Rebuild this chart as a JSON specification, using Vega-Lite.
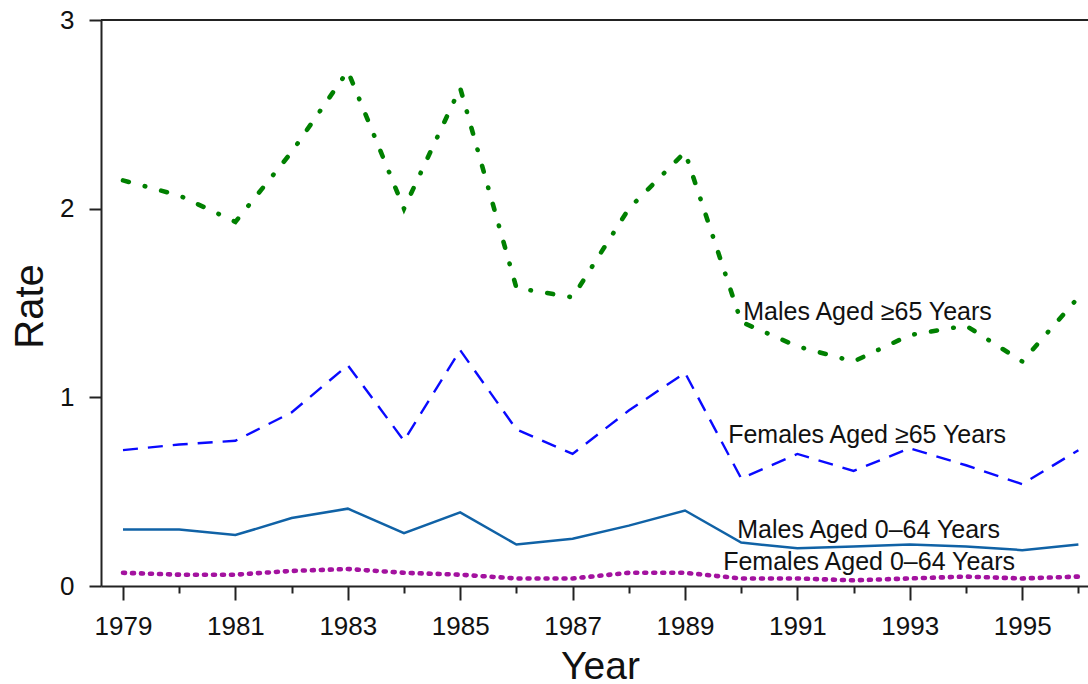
{
  "$schema": "https://vega.github.io/schema/vega-lite/v6.json",
  "width": 987,
  "height": 566,
  "autosize": {"type": "none"},
  "padding": {"left": 101, "top": 20, "right": 0, "bottom": 98},
  "background": "white",
  "config": {
    "view": {"stroke": null},
    "font": "Liberation Sans",
    "axis": {"grid": false, "domainColor": "#222", "domainWidth": 2, "tickColor": "#222", "tickWidth": 2, "labelColor": "#111", "titleColor": "#111", "labelFont": "Liberation Sans", "titleFont": "Liberation Sans", "titleFontWeight": "normal"}
  },
  "data": {"values": [
    {"year": 1979, "series": "Males Aged ≥65 Years", "rate": 2.15},
    {"year": 1980, "series": "Males Aged ≥65 Years", "rate": 2.07},
    {"year": 1981, "series": "Males Aged ≥65 Years", "rate": 1.93},
    {"year": 1982, "series": "Males Aged ≥65 Years", "rate": 2.3},
    {"year": 1983, "series": "Males Aged ≥65 Years", "rate": 2.73},
    {"year": 1984, "series": "Males Aged ≥65 Years", "rate": 2.0},
    {"year": 1985, "series": "Males Aged ≥65 Years", "rate": 2.64},
    {"year": 1986, "series": "Males Aged ≥65 Years", "rate": 1.58},
    {"year": 1987, "series": "Males Aged ≥65 Years", "rate": 1.53},
    {"year": 1988, "series": "Males Aged ≥65 Years", "rate": 2.0},
    {"year": 1989, "series": "Males Aged ≥65 Years", "rate": 2.3},
    {"year": 1990, "series": "Males Aged ≥65 Years", "rate": 1.4},
    {"year": 1991, "series": "Males Aged ≥65 Years", "rate": 1.27},
    {"year": 1992, "series": "Males Aged ≥65 Years", "rate": 1.19},
    {"year": 1993, "series": "Males Aged ≥65 Years", "rate": 1.33},
    {"year": 1994, "series": "Males Aged ≥65 Years", "rate": 1.38},
    {"year": 1995, "series": "Males Aged ≥65 Years", "rate": 1.19},
    {"year": 1996, "series": "Males Aged ≥65 Years", "rate": 1.53},
    {"year": 1979, "series": "Females Aged ≥65 Years", "rate": 0.72},
    {"year": 1980, "series": "Females Aged ≥65 Years", "rate": 0.75},
    {"year": 1981, "series": "Females Aged ≥65 Years", "rate": 0.77},
    {"year": 1982, "series": "Females Aged ≥65 Years", "rate": 0.92},
    {"year": 1983, "series": "Females Aged ≥65 Years", "rate": 1.17},
    {"year": 1984, "series": "Females Aged ≥65 Years", "rate": 0.77},
    {"year": 1985, "series": "Females Aged ≥65 Years", "rate": 1.25},
    {"year": 1986, "series": "Females Aged ≥65 Years", "rate": 0.83},
    {"year": 1987, "series": "Females Aged ≥65 Years", "rate": 0.7},
    {"year": 1988, "series": "Females Aged ≥65 Years", "rate": 0.93},
    {"year": 1989, "series": "Females Aged ≥65 Years", "rate": 1.13},
    {"year": 1990, "series": "Females Aged ≥65 Years", "rate": 0.57},
    {"year": 1991, "series": "Females Aged ≥65 Years", "rate": 0.7},
    {"year": 1992, "series": "Females Aged ≥65 Years", "rate": 0.61},
    {"year": 1993, "series": "Females Aged ≥65 Years", "rate": 0.73},
    {"year": 1994, "series": "Females Aged ≥65 Years", "rate": 0.64},
    {"year": 1995, "series": "Females Aged ≥65 Years", "rate": 0.54},
    {"year": 1996, "series": "Females Aged ≥65 Years", "rate": 0.72},
    {"year": 1979, "series": "Males Aged 0–64 Years", "rate": 0.3},
    {"year": 1980, "series": "Males Aged 0–64 Years", "rate": 0.3},
    {"year": 1981, "series": "Males Aged 0–64 Years", "rate": 0.27},
    {"year": 1982, "series": "Males Aged 0–64 Years", "rate": 0.36},
    {"year": 1983, "series": "Males Aged 0–64 Years", "rate": 0.41},
    {"year": 1984, "series": "Males Aged 0–64 Years", "rate": 0.28},
    {"year": 1985, "series": "Males Aged 0–64 Years", "rate": 0.39},
    {"year": 1986, "series": "Males Aged 0–64 Years", "rate": 0.22},
    {"year": 1987, "series": "Males Aged 0–64 Years", "rate": 0.25},
    {"year": 1988, "series": "Males Aged 0–64 Years", "rate": 0.32},
    {"year": 1989, "series": "Males Aged 0–64 Years", "rate": 0.4},
    {"year": 1990, "series": "Males Aged 0–64 Years", "rate": 0.23},
    {"year": 1991, "series": "Males Aged 0–64 Years", "rate": 0.2},
    {"year": 1992, "series": "Males Aged 0–64 Years", "rate": 0.21},
    {"year": 1993, "series": "Males Aged 0–64 Years", "rate": 0.22},
    {"year": 1994, "series": "Males Aged 0–64 Years", "rate": 0.21},
    {"year": 1995, "series": "Males Aged 0–64 Years", "rate": 0.19},
    {"year": 1996, "series": "Males Aged 0–64 Years", "rate": 0.22},
    {"year": 1979, "series": "Females Aged 0–64 Years", "rate": 0.07},
    {"year": 1980, "series": "Females Aged 0–64 Years", "rate": 0.06},
    {"year": 1981, "series": "Females Aged 0–64 Years", "rate": 0.06},
    {"year": 1982, "series": "Females Aged 0–64 Years", "rate": 0.08},
    {"year": 1983, "series": "Females Aged 0–64 Years", "rate": 0.09},
    {"year": 1984, "series": "Females Aged 0–64 Years", "rate": 0.07},
    {"year": 1985, "series": "Females Aged 0–64 Years", "rate": 0.06},
    {"year": 1986, "series": "Females Aged 0–64 Years", "rate": 0.04},
    {"year": 1987, "series": "Females Aged 0–64 Years", "rate": 0.04},
    {"year": 1988, "series": "Females Aged 0–64 Years", "rate": 0.07},
    {"year": 1989, "series": "Females Aged 0–64 Years", "rate": 0.07},
    {"year": 1990, "series": "Females Aged 0–64 Years", "rate": 0.04},
    {"year": 1991, "series": "Females Aged 0–64 Years", "rate": 0.04},
    {"year": 1992, "series": "Females Aged 0–64 Years", "rate": 0.03},
    {"year": 1993, "series": "Females Aged 0–64 Years", "rate": 0.04},
    {"year": 1994, "series": "Females Aged 0–64 Years", "rate": 0.05},
    {"year": 1995, "series": "Females Aged 0–64 Years", "rate": 0.04},
    {"year": 1996, "series": "Females Aged 0–64 Years", "rate": 0.05}
  ]},
  "encoding": {
    "x": {
      "field": "year", "type": "quantitative",
      "scale": {"domain": [1978.6085, 1996.171], "nice": false, "zero": false},
      "axis": {
        "values": [1979,1980,1981,1982,1983,1984,1985,1986,1987,1988,1989,1990,1991,1992,1993,1994,1995,1996],
        "labelExpr": "datum.value % 2 === 1 ? datum.label : ''",
        "format": "d",
        "tickSize": {"condition": {"test": "datum.value % 2 === 1", "value": 14}, "value": 7},
        "labelFontSize": 26, "labelPadding": 13, "labelOverlap": false, "labelFlush": false,
        "title": "Year", "titleFontSize": 39, "titleX": 499, "titleY": 92, "titleBaseline": "alphabetic", "titleAlign": "center"
      }
    },
    "y": {
      "field": "rate", "type": "quantitative",
      "scale": {"domain": [0, 3], "nice": false},
      "axis": {
        "values": [0, 0.5, 1, 1.5, 2, 2.5, 3],
        "format": "d",
        "labelExpr": "datum.value % 1 === 0 ? datum.label : ''",
        "tickSize": {"condition": {"test": "datum.value % 1 === 0", "value": 12}, "value": 6},
        "labelFontSize": 26, "labelPadding": 15, "labelOverlap": false, "labelFlush": false,
        "title": "Rate", "titleFontSize": 40, "titleX": -59, "titleY": 286, "titleAngle": -90, "titleBaseline": "alphabetic", "titleAlign": "center"
      }
    }
  },
  "layer": [
    {"mark": {"type": "rule", "color": "#222", "strokeWidth": 2}, "encoding": {"y": {"datum": 3}, "x": null}},
    {"transform": [{"filter": "datum.series === 'Males Aged ≥65 Years'"}],
     "mark": {"type": "line", "color": "#008000", "strokeWidth": 4.6, "strokeCap": "round", "strokeDash": [6, 16.5, 0.5, 16.5]}},
    {"transform": [{"filter": "datum.series === 'Females Aged ≥65 Years'"}],
     "mark": {"type": "line", "color": "#0a0aff", "strokeWidth": 2.4, "strokeDash": [15, 10]}},
    {"transform": [{"filter": "datum.series === 'Males Aged 0–64 Years'"}],
     "mark": {"type": "line", "color": "#1062a6", "strokeWidth": 2.5}},
    {"transform": [{"filter": "datum.series === 'Females Aged 0–64 Years'"}],
     "mark": {"type": "line", "color": "#a3129f", "strokeWidth": 4.6, "strokeCap": "round", "strokeDash": [2, 7]}},
    {"transform": [{"filter": "datum.year === 1990 && datum.series === 'Males Aged ≥65 Years'"}],
     "mark": {"type": "text", "align": "left", "baseline": "alphabetic", "dx": 2, "dy": -2, "fontSize": 25, "color": "#111"},
     "encoding": {"text": {"field": "series"}}},
    {"transform": [{"filter": "datum.year === 1990 && datum.series === 'Females Aged ≥65 Years'"}],
     "mark": {"type": "text", "align": "left", "baseline": "alphabetic", "dx": -13, "dy": -35, "fontSize": 25, "color": "#111"},
     "encoding": {"text": {"field": "series"}}},
    {"transform": [{"filter": "datum.year === 1990 && datum.series === 'Males Aged 0–64 Years'"}],
     "mark": {"type": "text", "align": "left", "baseline": "alphabetic", "dx": -4, "dy": -5, "fontSize": 25, "color": "#111"},
     "encoding": {"text": {"field": "series"}}},
    {"transform": [{"filter": "datum.year === 1990 && datum.series === 'Females Aged 0–64 Years'"}],
     "mark": {"type": "text", "align": "left", "baseline": "alphabetic", "dx": -18, "dy": -8.5, "fontSize": 25, "color": "#111"},
     "encoding": {"text": {"field": "series"}}}
  ]
}
